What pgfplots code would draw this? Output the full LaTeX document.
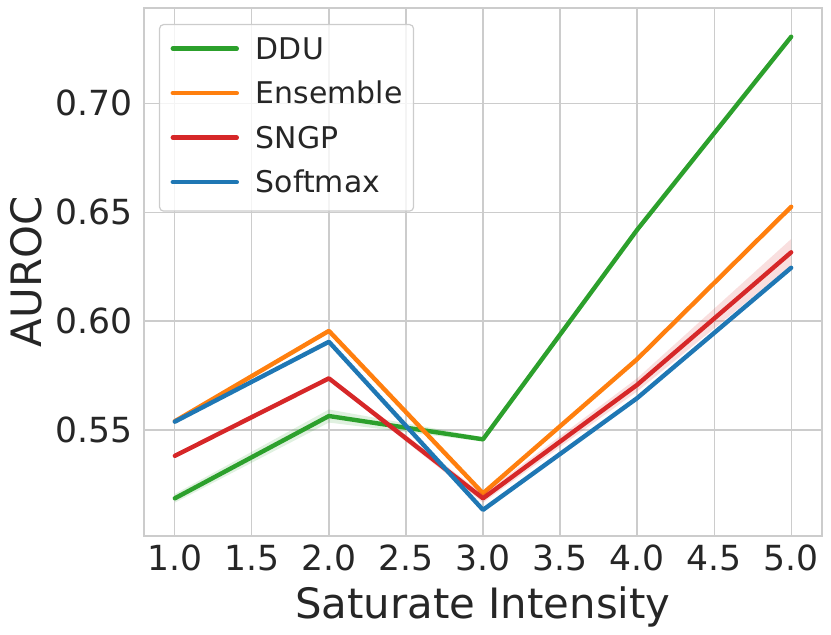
\documentclass[border=0pt]{standalone}
\usepackage{fontspec}
\setmainfont{DejaVu Sans}
\usepackage{pgfplots}
\pgfplotsset{compat=1.18}
\definecolor{cgreen}{HTML}{2CA02C}
\definecolor{corange}{HTML}{FF7F0E}
\definecolor{cred}{HTML}{D62728}
\definecolor{cblue}{HTML}{1F77B4}
\definecolor{txt}{HTML}{262626}
\definecolor{gridc}{HTML}{CCCCCC}
\begin{document}
\begin{tikzpicture}
\useasboundingbox (0,0) rectangle (831bp,635bp);
\begin{axis}[
  at={(144bp,99bp)}, anchor=south west,
  width=678bp, height=528bp, scale only axis,
  xmin=0.8, xmax=5.2, ymin=0.5013, ymax=0.7438,
  xtick={1,1.5,2,2.5,3,3.5,4,4.5,5},
  xticklabels={1.0,1.5,2.0,2.5,3.0,3.5,4.0,4.5,5.0},
  ytick={0.55,0.60,0.65,0.70},
  yticklabels={0.55,0.60,0.65,0.70},
  grid=major,
  major grid style={gridc, line width=1.2bp},
  axis line style={gridc, line width=1.5bp},
  major tick length=0pt,
  tick label style={font=\fontsize{34.7}{40}\selectfont, text=txt, inner sep=0pt},
  xticklabel style={anchor=north, yshift=-9bp},
  yticklabel style={anchor=east, xshift=-11bp},
  xlabel={Saturate Intensity},
  xlabel style={at={(axis description cs:0.5,-0.1553)}, anchor=base, font=\fontsize{42}{50}\selectfont, text=txt, inner sep=0pt},
  ylabel={AUROC},
  ylabel style={at={(axis description cs:-0.174,0.5)}, anchor=center, rotate=0, font=\fontsize{42}{50}\selectfont, text=txt, inner sep=0pt},
  legend cell align=left,
  legend image code/.code={\draw[#1, line width=4.4bp, line cap=round] (0bp,10.9bp) -- (64bp,10.9bp);},
  legend style={at={(axis description cs:0.0221,0.9697)}, anchor=north west,
    draw=gridc, fill=white, fill opacity=0.8, text opacity=1, rounded corners=4bp,
    line width=1.2bp, font=\fontsize{30}{36}\selectfont, text=txt,
    inner xsep=11bp, inner ysep=6bp, row sep=3.5bp, column sep=17bp,
    cells={anchor=base west},
    nodes={inner sep=0pt, text height=28.9bp, text depth=12.1bp}},
  every axis plot/.append style={line width=4.4bp, line cap=round, line join=round},
]
% DDU band
\addplot[forget plot, draw=none, fill=cgreen, fill opacity=0.15] coordinates {
 (1,0.5206) (2,0.5594) (3,0.5467) (4,0.6428) (5,0.7316)
 (5,0.7296) (4,0.6408) (3,0.5447) (2,0.5534) (1,0.5166)} -- cycle;
\addplot[cgreen] coordinates {(1,0.5186) (2,0.5564) (3,0.5457) (4,0.6419) (5,0.7306)};
\addlegendentry{DDU}
% Ensemble band
\addplot[forget plot, draw=none, fill=corange, fill opacity=0.15] coordinates {
 (1,0.5550) (2,0.5965) (3,0.5219) (4,0.5835) (5,0.6535)
 (5,0.6515) (4,0.5815) (3,0.5199) (2,0.5945) (1,0.5530)} -- cycle;
\addplot[corange] coordinates {(1,0.5540) (2,0.5955) (3,0.5209) (4,0.5825) (5,0.6525)};
\addlegendentry{Ensemble}
% SNGP band
\addplot[forget plot, draw=none, fill=cred, fill opacity=0.15] coordinates {
 (1,0.5391) (2,0.5747) (3,0.5206) (4,0.5737) (5,0.6377)
 (5,0.6255) (4,0.5677) (3,0.5166) (2,0.5727) (1,0.5371)} -- cycle;
\addplot[cred] coordinates {(1,0.5381) (2,0.5737) (3,0.5186) (4,0.5707) (5,0.6316)};
\addlegendentry{SNGP}
% Softmax band
\addplot[forget plot, draw=none, fill=cblue, fill opacity=0.15] coordinates {
 (1,0.5546) (2,0.5913) (3,0.5141) (4,0.5656) (5,0.6255)
 (5,0.6235) (4,0.5636) (3,0.5125) (2,0.5897) (1,0.5530)} -- cycle;
\addplot[cblue] coordinates {(1,0.5538) (2,0.5905) (3,0.5133) (4,0.5646) (5,0.6245)};
\addlegendentry{Softmax}
\end{axis}
\end{tikzpicture}
\end{document}
